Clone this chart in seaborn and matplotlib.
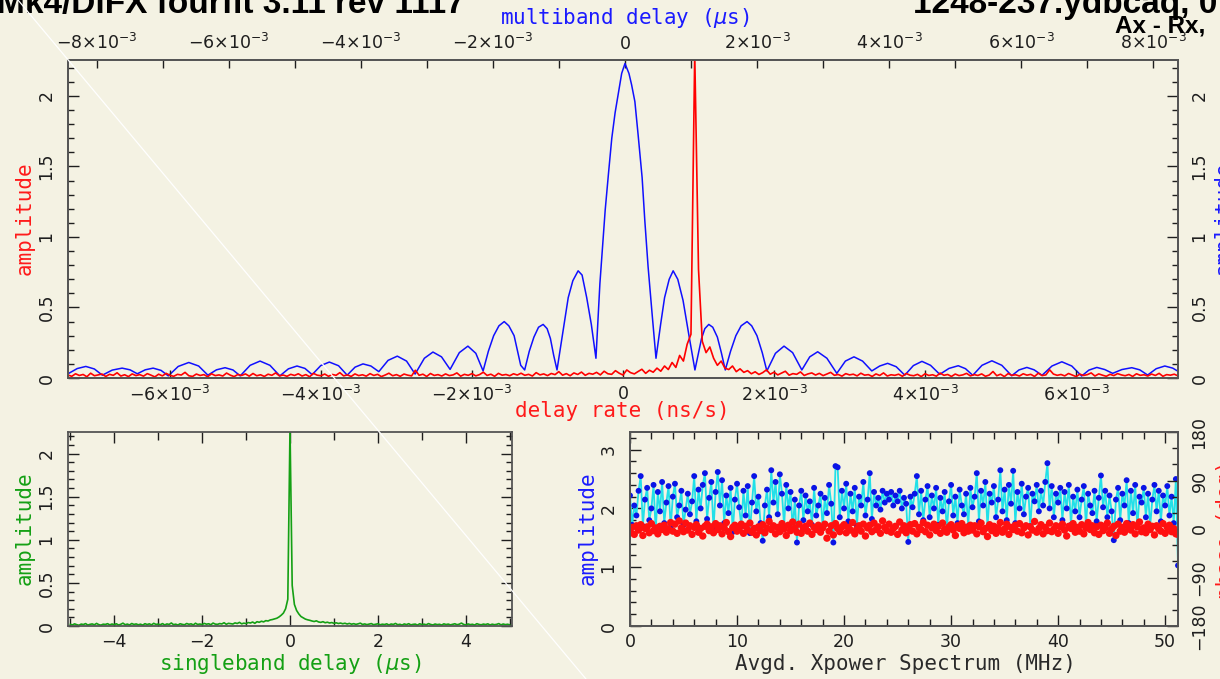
import numpy as np
import pandas as pd
import matplotlib
matplotlib.use("Agg")
import matplotlib.pyplot as plt
import seaborn as sns
from matplotlib.lines import Line2D
from matplotlib.ticker import MultipleLocator, FixedLocator, FuncFormatter

# ------------------------------------------------------------------ data
# multiband delay function (blue, top axis) : delay in ns, amplitude
mbd_ns = [-8.44, -8.30, -8.17, -8.04, -7.92, -7.77, -7.62, -7.50, -7.39, -7.27,
          -7.15, -7.03, -6.92, -6.77, -6.61, -6.46, -6.32, -6.19, -6.06, -5.94,
          -5.83, -5.68, -5.53, -5.38, -5.23, -5.10, -4.97, -4.85, -4.74, -4.61,
          -4.48, -4.34, -4.21, -4.09, -3.97, -3.85, -3.73, -3.59, -3.45, -3.31,
          -3.18, -3.04, -2.91, -2.78, -2.65, -2.51, -2.38, -2.26, -2.15, -2.07,
          -1.99, -1.91, -1.83, -1.76, -1.68, -1.58, -1.52, -1.45, -1.38, -1.31,
          -1.24, -1.18, -1.13, -1.08, -1.03, -0.95, -0.86, -0.79, -0.71, -0.65,
          -0.58, -0.51, -0.44, -0.41, -0.38, -0.34, -0.30, -0.25, -0.20, -0.15,
          -0.09, -0.05, 0.00, 0.06, 0.10, 0.15, 0.20, 0.26, 0.30, 0.35,
          0.41, 0.47, 0.54, 0.60, 0.67, 0.73, 0.80, 0.88, 0.97, 1.06,
          1.11, 1.16, 1.21, 1.27, 1.33, 1.40, 1.46, 1.52, 1.60, 1.68,
          1.76, 1.85, 1.92, 2.00, 2.08, 2.15, 2.28, 2.41, 2.54, 2.68,
          2.80, 2.92, 3.06, 3.21, 3.34, 3.47, 3.60, 3.74, 3.86, 3.98,
          4.11, 4.24, 4.37, 4.50, 4.63, 4.77, 4.91, 5.05, 5.16, 5.27,
          5.41, 5.56, 5.71, 5.86, 5.97, 6.09, 6.20, 6.32, 6.47, 6.62,
          6.77, 6.92, 7.03, 7.15, 7.27, 7.39, 7.53, 7.68, 7.80, 7.92,
          8.05, 8.18, 8.30, 8.39]
mbd_amp = [0.030, 0.067, 0.082, 0.064, 0.020, 0.056, 0.070, 0.058, 0.030, 0.058,
           0.070, 0.054, 0.015, 0.082, 0.110, 0.085, 0.020, 0.058, 0.073, 0.057,
           0.015, 0.090, 0.120, 0.090, 0.015, 0.065, 0.085, 0.068, 0.024, 0.088,
           0.113, 0.087, 0.020, 0.077, 0.100, 0.085, 0.045, 0.125, 0.155, 0.120,
           0.028, 0.140, 0.184, 0.150, 0.061, 0.180, 0.226, 0.175, 0.050, 0.190,
           0.300, 0.370, 0.400, 0.370, 0.300, 0.090, 0.057, 0.190, 0.290, 0.360,
           0.380, 0.350, 0.280, 0.160, 0.057, 0.300, 0.570, 0.690, 0.760, 0.730,
           0.570, 0.380, 0.140, 0.400, 0.670, 0.930, 1.190, 1.450, 1.700, 1.880,
           2.050, 2.160, 2.230, 2.160, 2.080, 1.960, 1.720, 1.420, 1.120, 0.790,
           0.460, 0.140, 0.380, 0.570, 0.700, 0.760, 0.700, 0.550, 0.300, 0.057,
           0.170, 0.280, 0.350, 0.380, 0.360, 0.290, 0.180, 0.057, 0.190, 0.300,
           0.370, 0.400, 0.370, 0.300, 0.180, 0.050, 0.175, 0.226, 0.180, 0.057,
           0.150, 0.186, 0.140, 0.033, 0.120, 0.150, 0.120, 0.050, 0.085, 0.104,
           0.080, 0.020, 0.088, 0.118, 0.090, 0.026, 0.068, 0.087, 0.066, 0.019,
           0.090, 0.122, 0.090, 0.016, 0.057, 0.075, 0.058, 0.019, 0.085, 0.115,
           0.085, 0.014, 0.056, 0.075, 0.060, 0.033, 0.060, 0.073, 0.058, 0.021,
           0.066, 0.085, 0.070, 0.045]

# delay-rate function (red, bottom axis): sampled every 0.05 ps/s from -7.35
rate_amp = [
    0.021, 0.012, 0.030, 0.018, 0.025, 0.009, 0.034, 0.016, 0.022, 0.028, 0.011, 0.026, 0.019, 0.037, 0.014, 0.023, 0.010, 0.029, 0.017, 0.024,
    0.013, 0.031, 0.020, 0.008, 0.027, 0.015, 0.033, 0.019, 0.012, 0.026, 0.021, 0.040, 0.016, 0.011, 0.028, 0.018, 0.024, 0.009, 0.030, 0.017,
    0.022, 0.014, 0.035, 0.020, 0.010, 0.025, 0.018, 0.029, 0.013, 0.032, 0.016, 0.023, 0.011, 0.027, 0.019, 0.036, 0.015, 0.021, 0.012, 0.026,
    0.018, 0.030, 0.014, 0.024, 0.009, 0.033, 0.020, 0.016, 0.028, 0.012, 0.025, 0.019, 0.038, 0.015, 0.022, 0.011, 0.029, 0.017, 0.023, 0.013,
    0.031, 0.018, 0.026, 0.010, 0.021, 0.034, 0.016, 0.024, 0.012, 0.028, 0.020, 0.015, 0.055, 0.019, 0.027, 0.011, 0.032, 0.018, 0.024, 0.014,
    0.029, 0.017, 0.022, 0.036, 0.013, 0.026, 0.019, 0.031, 0.015, 0.024, 0.041, 0.018, 0.027, 0.012, 0.033, 0.020, 0.025, 0.016, 0.030, 0.021,
    0.034, 0.019, 0.026, 0.014, 0.038, 0.022, 0.029, 0.017, 0.032, 0.024, 0.045, 0.020, 0.031, 0.016, 0.036, 0.025, 0.042, 0.019, 0.033, 0.027,
    0.040, 0.022, 0.048, 0.030, 0.026, 0.052, 0.034, 0.021, 0.057, 0.038, 0.029, 0.046, 0.062, 0.033, 0.055, 0.041, 0.070, 0.048, 0.085, 0.060,
    0.110, 0.075, 0.160, 0.120, 0.240, 0.310, 2.300, 0.770, 0.260, 0.180, 0.220, 0.140, 0.090, 0.120, 0.070, 0.060, 0.085, 0.045, 0.065, 0.040,
    0.052, 0.030, 0.044, 0.025, 0.038, 0.058, 0.027, 0.041, 0.022, 0.035, 0.048, 0.020, 0.031, 0.026, 0.043, 0.018, 0.029, 0.036, 0.021, 0.033,
    0.017, 0.028, 0.040, 0.019, 0.025, 0.013, 0.031, 0.022, 0.027, 0.015, 0.034, 0.020, 0.024, 0.011, 0.029, 0.018, 0.036, 0.014, 0.023, 0.019,
    0.027, 0.012, 0.032, 0.020, 0.016, 0.026, 0.010, 0.030, 0.018, 0.023, 0.013, 0.035, 0.019, 0.025, 0.011, 0.028, 0.017, 0.022, 0.033, 0.015,
    0.024, 0.018, 0.029, 0.012, 0.021, 0.046, 0.016, 0.027, 0.010, 0.031, 0.019, 0.023, 0.014, 0.030, 0.020, 0.026, 0.011, 0.034, 0.017, 0.022,
    0.058, 0.028, 0.019, 0.025, 0.015, 0.032, 0.021, 0.010, 0.027, 0.018, 0.024, 0.036, 0.014, 0.029, 0.020, 0.012, 0.026, 0.017, 0.031, 0.022,
    0.016, 0.025, 0.011, 0.030, 0.019, 0.023, 0.014, 0.028, 0.018, 0.033, 0.012, 0.024, 0.020, 0.027, 0.015]
rate_ps = np.round(-7.35 + 0.05 * np.arange(len(rate_amp)), 3)

# singleband delay function (green): sampled every 0.05 us from -5
sbd_amp = [
    0.020, 0.012, 0.025, 0.015, 0.009, 0.022, 0.017, 0.028, 0.011, 0.019, 0.024, 0.014, 0.030, 0.016, 0.010, 0.021, 0.018, 0.027, 0.013, 0.023,
    0.016, 0.026, 0.011, 0.020, 0.033, 0.015, 0.022, 0.012, 0.029, 0.018, 0.024, 0.014, 0.021, 0.010, 0.027, 0.017, 0.025, 0.013, 0.031, 0.019,
    0.022, 0.015, 0.028, 0.012, 0.024, 0.018, 0.035, 0.016, 0.021, 0.011, 0.026, 0.019, 0.014, 0.029, 0.020, 0.025, 0.013, 0.032, 0.018, 0.023,
    0.017, 0.030, 0.021, 0.026, 0.015, 0.034, 0.022, 0.019, 0.028, 0.024, 0.038, 0.020, 0.031, 0.027, 0.023, 0.036, 0.029, 0.042, 0.025, 0.033,
    0.028, 0.040, 0.035, 0.046, 0.031, 0.050, 0.043, 0.055, 0.048, 0.062, 0.058, 0.070, 0.075, 0.082, 0.090, 0.105, 0.125, 0.150, 0.200, 0.310,
    2.300,
    0.470, 0.250, 0.180, 0.140, 0.110, 0.095, 0.080, 0.072, 0.066, 0.058, 0.052, 0.060, 0.047, 0.042, 0.050, 0.038, 0.044, 0.035, 0.040, 0.031,
    0.037, 0.029, 0.034, 0.026, 0.032, 0.023, 0.030, 0.021, 0.027, 0.019, 0.025, 0.033, 0.018, 0.024, 0.016, 0.022, 0.028, 0.015, 0.020, 0.026,
    0.014, 0.021, 0.017, 0.025, 0.012, 0.023, 0.018, 0.030, 0.015, 0.020, 0.011, 0.024, 0.016, 0.027, 0.013, 0.019, 0.022, 0.010, 0.026, 0.017,
    0.021, 0.014, 0.028, 0.018, 0.012, 0.023, 0.016, 0.020, 0.011, 0.025, 0.017, 0.022, 0.013, 0.019, 0.026, 0.015, 0.021, 0.034, 0.018, 0.012,
    0.024, 0.016, 0.020, 0.011, 0.027, 0.018, 0.014, 0.022, 0.017, 0.025, 0.012, 0.021, 0.015, 0.019, 0.028, 0.013, 0.023, 0.016, 0.020, 0.014]
sbd_us = np.round(-5.0 + 0.05 * np.arange(len(sbd_amp)), 3)

# averaged cross-power spectrum: every 0.2 MHz from 0 to 51.2
xp_amp = [
    2.22, 1.72, 2.05, 1.88, 2.30, 2.55, 1.70, 2.15, 2.35, 1.80, 2.00, 2.40, 1.62, 2.28, 1.95, 2.45, 1.75, 2.10, 2.38, 1.68,
    2.20, 2.42, 1.85, 2.05, 2.30, 1.72, 1.98, 2.25, 1.90, 2.12, 2.55, 1.78, 2.32, 2.00, 2.40, 2.60, 1.82, 2.18, 2.45, 1.65,
    2.28, 2.62, 2.05, 2.48, 1.75, 2.22, 1.92, 2.35, 1.60, 2.15, 2.42, 2.02, 1.70, 2.30, 1.88, 2.38, 1.58, 2.10, 2.55, 1.95,
    2.20, 1.75, 1.45, 2.05, 2.32, 1.85, 2.65, 2.10, 2.45, 1.90, 2.58, 2.25, 1.70, 2.40, 2.00, 2.28, 1.65, 2.15, 1.42, 2.05,
    2.30, 1.80, 2.22, 1.95, 2.12, 1.72, 2.35, 1.88, 2.05, 2.25, 1.68, 2.18, 1.92, 2.40, 2.08, 1.42, 2.72, 2.70, 1.85, 2.30,
    2.00, 2.42, 1.78, 2.25, 1.95, 2.35, 1.70, 2.20, 2.05, 2.45, 1.88, 2.15, 2.60, 1.82, 2.28, 2.05, 2.18, 1.98, 2.30, 2.10,
    2.25, 2.15, 2.28, 2.05, 2.22, 2.12, 2.30, 2.00, 2.18, 2.08, 1.43, 2.20, 2.02, 2.25, 2.55, 1.90, 2.30, 1.80, 2.15, 2.38,
    1.85, 2.22, 2.00, 2.35, 1.72, 2.18, 1.95, 2.28, 1.62, 2.12, 2.40, 1.88, 2.20, 1.75, 2.32, 2.05, 1.90, 2.25, 1.70, 2.35,
    2.02, 2.20, 2.60, 1.78, 2.30, 2.05, 2.45, 1.68, 2.25, 2.10, 2.38, 1.85, 2.15, 2.65, 1.95, 2.32, 1.80, 2.40, 2.08, 2.64,
    1.75, 2.28, 2.00, 2.42, 1.90, 2.20, 2.35, 1.70, 2.25, 2.12, 2.40, 1.95, 2.30, 2.05, 2.45, 2.77, 2.00, 2.38, 1.85, 2.25,
    2.10, 2.35, 1.80, 2.28, 2.00, 2.40, 1.72, 2.20, 1.95, 2.32, 1.85, 2.15, 2.38, 1.70, 2.25, 2.05, 1.92, 2.30, 1.78, 2.18,
    2.56, 2.02, 2.30, 1.85, 2.22, 1.95, 1.46, 2.15, 2.35, 1.80, 2.25, 2.05, 2.48, 1.75, 2.30, 1.92, 2.40, 1.68, 2.20, 2.10,
    2.35, 1.85, 2.25, 1.70, 2.15, 2.40, 1.95, 2.30, 1.78, 2.22, 2.05, 2.38, 1.88, 2.20, 1.75, 2.50, 1.03]
xp_phase = [
    -5, 3, -10, 6, -2, 8, -12, 1, 4, -7, 10, -3, 2, -9, 5, -1, 7, -6, 0, 12,
    -4, 9, -8, 15, 2, -5, 11, -2, 6, -10, 3, 8, -6, 1, -13, 5, 9, -3, 4, -7,
    10, -1, 6, -9, 2, 12, -5, -14, 3, 7, -4, 0, 9, -8, 5, -2, 11, -6, 1, -11,
    4, -3, 8, -7, 2, 14, -1, 6, -9, 3, -5, 10, 0, -12, 7, -3, 13, 2, -6, 9,
    -8, 1, 5, -4, 11, -10, 3, -1, 7, -6, 2, 9, -17, -4, 6, -11, 10, 1, -5, 4,
    8, -7, 3, -2, 12, -9, 0, 6, -4, 9, -13, 2, 7, -5, 11, -1, 4, -8, 15, 3,
    -3, 9, -6, 1, 5, -10, 13, -2, 6, -7, 0, 8, -4, 10, -9, 3, -1, 12, -5, 7,
    -11, 2, 9, -3, 5, -8, 11, 0, -6, 4, 8, -2, -12, 6, 1, 10, -7, 3, -4, 7,
    -2, 6, -9, 4, 11, -5, 1, -14, 8, -3, 5, -8, 2, 12, -6, 0, 9, -10, 3, -1,
    7, -4, 10, -7, 2, 6, -11, 4, -2, 14, -6, 1, 8, -9, 3, -3, 11, -5, 0, 6,
    -8, 4, 9, -2, -13, 5, 1, 10, -6, 3, -4, 8, -9, 2, 12, -1, 6, -7, 4, -10,
    7, -3, 2, 11, -8, 0, 5, -12, 9, -4, 3, -6, 10, 1, -2, 8, -9, 4, 13, -5,
    2, -7, 9, -1, 5, -11, 6, 0, -4, 10, -8, 3, 7, -5, 1, -9, -10]
xp_mhz = np.round(0.2 * np.arange(len(xp_amp)), 2)

title_left = "Mk4/DiFX fourfit 3.11 rev 1117"
title_right = "1248-237.ydbcaq, 0"
subtitle_right = "Ax - Rx,"

# ------------------------------------------------------------------ style
BG = "#f4f2e3"
INK = "#1e1e1e"
sns.set_theme(style="ticks", rc={"axes.facecolor": BG, "figure.facecolor": BG,
                                 "savefig.facecolor": BG})
plt.rcParams["font.family"] = ["DejaVu Sans"]
plt.rcParams["mathtext.fontset"] = "dejavusans"

W, H = 1220, 679
fig = plt.figure(figsize=(W / 100, H / 100), dpi=100)


def box(l, t, r, b):
    return [l / W, 1 - b / H, (r - l) / W, (b - t) / H]


def style_spines(ax):
    for s in ax.spines.values():
        s.set_color("#555555")
        s.set_linewidth(1.3)


def sci(v, pos):
    m = int(round(v * 1e3))
    if m == 0:
        return "0"
    return r"$%s%d{\times}10^{-3}$" % ("-" if m < 0 else "", abs(m))


plain = FuncFormatter(lambda v, p: ("%g" % v).replace("-", "\u2212"))

TL = 12.5
LAB = 15
LABFONT = ["DejaVu Sans Mono", "DejaVu Sans"]

# ------------------------------------------------------------------ top panel
ax = fig.add_axes(box(68, 60, 1178, 378))
ax2 = ax.twiny()
ax.set_zorder(ax2.get_zorder() + 1)
ax.patch.set_visible(False)

df_rate = pd.DataFrame({"rate": rate_ps * 1e-3, "amp": rate_amp})
df_mbd = pd.DataFrame({"mbd": np.array(mbd_ns) * 1e-3, "amp": mbd_amp})
sns.lineplot(data=df_rate, x="rate", y="amp", ax=ax, color="#ff0000", lw=1.2,
             estimator=None, sort=False, legend=False)
sns.lineplot(data=df_mbd, x="mbd", y="amp", ax=ax2, color="#1010ff", lw=1.1,
             estimator=None, sort=False, legend=False)

ax.set_xlim(-7.35e-3, 7.35e-3)
ax2.set_xlim(-8.44e-3, 8.38e-3)
ax.set_ylim(0, 2.255)
for a in (ax, ax2):
    a.set_xlabel("")
    a.set_ylabel("")
    style_spines(a)

ax.xaxis.set_major_locator(FixedLocator([-6e-3, -4e-3, -2e-3, 0, 2e-3, 4e-3, 6e-3]))
ax.xaxis.set_major_formatter(FuncFormatter(sci))
ax.yaxis.set_major_locator(MultipleLocator(0.5))
ax.yaxis.set_minor_locator(MultipleLocator(0.1))
ax.yaxis.set_major_formatter(plain)
ax.tick_params(axis="x", which="both", direction="in", length=6, width=1,
               colors=INK, labelsize=TL, pad=5, top=False)
ax.tick_params(axis="y", which="major", direction="in", length=8, width=1,
               colors=INK, labelsize=TL, pad=9, left=True, right=True,
               labelleft=True, labelright=True, labelrotation=90)
ax.tick_params(axis="y", which="minor", direction="in", length=4, width=1,
               colors=INK, left=True, right=True)

ax2.xaxis.set_major_locator(FixedLocator([-8e-3, -6e-3, -4e-3, -2e-3, 0, 2e-3, 4e-3, 6e-3, 8e-3]))
ax2.xaxis.set_minor_locator(FixedLocator([-7e-3, -5e-3, -3e-3, -1e-3, 1e-3, 3e-3, 5e-3, 7e-3]))
ax2.xaxis.set_major_formatter(FuncFormatter(sci))
ax2.tick_params(axis="x", which="both", direction="in", length=6, width=1,
                colors=INK, labelsize=TL, pad=5)
for lab in ax.get_yticklabels(which="both"):
    lab.set_va("center")

# ------------------------------------------------------------------ singleband
axs = fig.add_axes(box(68, 432, 512, 626))
df_sbd = pd.DataFrame({"sbd": sbd_us, "amp": sbd_amp})
sns.lineplot(data=df_sbd, x="sbd", y="amp", ax=axs, color="#14a014", lw=1.2,
             estimator=None, sort=False, legend=False)
axs.set_xlim(-5.05, 5.05)
axs.set_ylim(0, 2.25)
axs.set_xlabel("")
axs.set_ylabel("")
style_spines(axs)
axs.xaxis.set_major_locator(MultipleLocator(2))
axs.xaxis.set_minor_locator(MultipleLocator(1))
axs.xaxis.set_major_formatter(plain)
axs.yaxis.set_major_locator(MultipleLocator(0.5))
axs.yaxis.set_minor_locator(MultipleLocator(0.1))
axs.yaxis.set_major_formatter(plain)
axs.tick_params(axis="x", which="major", direction="in", length=8, width=1,
                colors=INK, labelsize=TL, pad=5, top=True, bottom=True)
axs.tick_params(axis="x", which="minor", direction="in", length=6, width=1,
                colors=INK, top=True, bottom=True)
axs.tick_params(axis="y", which="major", direction="in", length=8, width=1,
                colors=INK, labelsize=TL, pad=9, left=True, right=True,
                labelrotation=90)
axs.tick_params(axis="y", which="minor", direction="in", length=4, width=1,
                colors=INK, left=True, right=True)
for lab in axs.get_yticklabels():
    lab.set_va("center")

# ------------------------------------------------------------------ xpower
axp = fig.add_axes(box(630, 432, 1178, 626))
axq = axp.twinx()
df_xp = pd.DataFrame({"f": xp_mhz, "amp": xp_amp, "phase": xp_phase})
sns.lineplot(data=df_xp, x="f", y="amp", ax=axp, color="#22e0e8", lw=1.3,
             estimator=None, sort=False, legend=False)
sns.scatterplot(data=df_xp, x="f", y="amp", ax=axp, color="#0a14e6", s=18,
                edgecolor="none", legend=False, zorder=3)
sns.scatterplot(data=df_xp, x="f", y="phase", ax=axq, color="#ff1010", s=28,
                edgecolor="none", legend=False)
axp.set_xlim(0, 51.2)
axp.set_ylim(0, 3.3)
axq.set_ylim(-180, 180)
for a in (axp, axq):
    a.set_xlabel("")
    a.set_ylabel("")
    style_spines(a)
axp.xaxis.set_major_locator(MultipleLocator(10))
axp.xaxis.set_minor_locator(MultipleLocator(2))
axp.yaxis.set_major_locator(MultipleLocator(1))
axp.yaxis.set_minor_locator(MultipleLocator(0.2))
axp.yaxis.set_major_formatter(plain)
axq.yaxis.set_major_locator(MultipleLocator(90))
axq.yaxis.set_minor_locator(MultipleLocator(30))
axq.yaxis.set_major_formatter(plain)
axp.tick_params(axis="x", which="major", direction="in", length=8, width=1,
                colors=INK, labelsize=TL, pad=5, top=True, bottom=True)
axp.tick_params(axis="x", which="minor", direction="in", length=5, width=1,
                colors=INK, top=True, bottom=True)
axp.tick_params(axis="y", which="major", direction="in", length=8, width=1,
                colors=INK, labelsize=TL, pad=9, labelrotation=90)
axp.tick_params(axis="y", which="minor", direction="in", length=4, width=1,
                colors=INK)
axq.tick_params(axis="y", which="major", direction="in", length=8, width=1,
                colors=INK, labelsize=TL, pad=9, labelrotation=90)
axq.tick_params(axis="y", which="minor", direction="in", length=4, width=1,
                colors=INK)
for lab in list(axp.get_yticklabels()) + list(axq.get_yticklabels()):
    lab.set_va("center")

# ------------------------------------------------------------------ labels
def ftext(x, y, s, **kw):
    fig.text(x / W, 1 - y / H, s, **kw)


lab_kw = dict(fontsize=LAB, family=LABFONT, ha="center", va="center")
ftext(625, 18, r"multiband delay ($\mu$s)", color="#1a1aff", **lab_kw)
ftext(622, 411, "delay rate (ns/s)", color="#ff1a1a", **lab_kw)
ftext(25, 218, "amplitude", color="#ff1a1a", rotation=90, **lab_kw)
ftext(1224, 218, "amplitude", color="#1a1aff", rotation=90, **lab_kw)
ftext(25, 528, "amplitude", color="#14a014", rotation=90, **lab_kw)
ftext(290, 664, r"singleband delay ($\mu$s)", color="#14a014", **lab_kw)
ftext(588, 528, "amplitude", color="#1a1aff", rotation=90, **lab_kw)
ftext(905, 664, "Avgd. Xpower Spectrum (MHz)", color="#2a2a2a", **lab_kw)
ftext(1226, 530, "phase (deg)", color="#ff1a1a", rotation=90, **lab_kw)

ftext(-3, 13, title_left, color="black", fontsize=24, fontweight="bold",
      family=["Liberation Sans", "DejaVu Sans"], ha="left", va="baseline")
ftext(913, 13, title_right, color="black", fontsize=24, fontweight="bold",
      family=["Liberation Sans", "DejaVu Sans"], ha="left", va="baseline")
ftext(1115, 32, subtitle_right, color="black", fontsize=17.5, fontweight="bold",
      family=["Liberation Sans", "DejaVu Sans"], ha="left", va="baseline")

# faint white diagonal stroke across the page
fig.add_artist(Line2D([18 / W, 586 / W], [1.0, 0.0], transform=fig.transFigure,
                      color="white", lw=0.9, zorder=5))

fig.savefig("out.png", dpi=100, facecolor=BG)
